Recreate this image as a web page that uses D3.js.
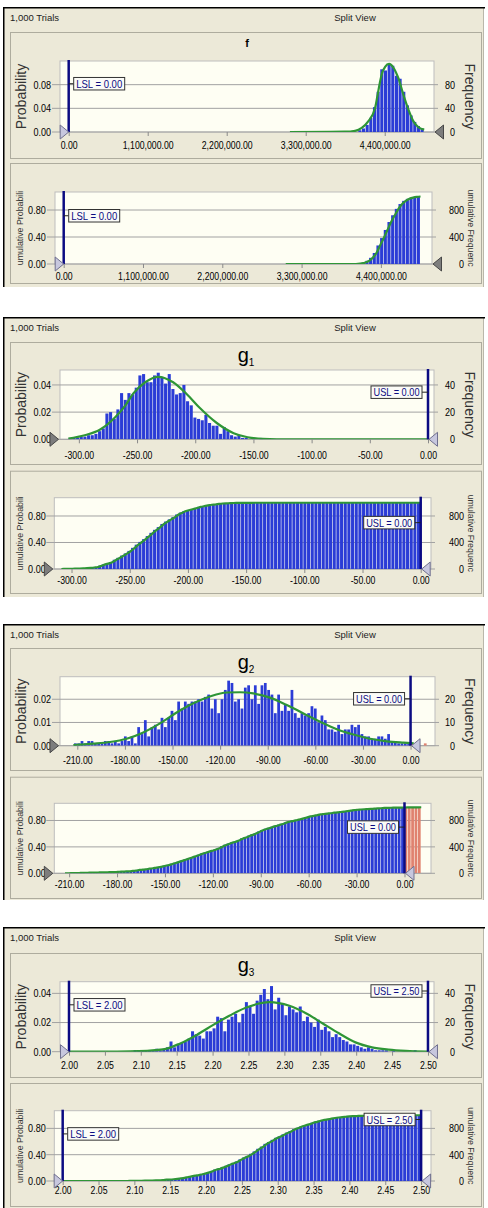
<!DOCTYPE html>
<html>
<head>
<meta charset="utf-8">
<script src="https://cdn.jsdelivr.net/npm/d3@7"></script>
<style>
  body { margin: 0; background: #fff; }
  svg text { font-family: "Liberation Sans", Arial, sans-serif; }
</style>
</head>
<body>
<svg id="chart" width="488" height="1208"></svg>
<script>
// ---- data (counts per bin, 1,000 trials) ----
const fBinStart = 4032000, fBinWidth = 51000;
const fCounts = [3, 6, 12, 24, 42, 68, 106, 104, 114, 112, 95, 90, 68, 45, 28, 17, 10, 6];
const fCurve = [[3080000, 0], [3846000, 0.0005], [3988000, 0.002], [4080000, 0.007], [4170000, 0.018],
  [4265000, 0.040], [4300000, 0.062], [4335000, 0.085], [4370000, 0.102], [4405000, 0.110], [4460000, 0.115],
  [4520000, 0.109], [4590000, 0.091], [4660000, 0.063], [4730000, 0.038], [4800000, 0.018], [4870000, 0.008], [4950000, 0.004]];
const fTicks = [0, 1100000, 2200000, 3300000, 4400000];

const g1BinStart = -308.7, g1BinWidth = 3.15, g1RangeEnd = 0;
const g1Counts = [1, 1, 1, 2, 2, 3, 3, 4, 6, 8, 19, 20, 15, 22, 34, 29, 34, 33, 38, 47,
  48, 42, 42, 47, 49, 46, 41, 48, 37, 33, 34, 40, 28, 25, 16, 15, 14, 18, 12, 10,
  10, 4, 9, 6, 3, 2, 3, 1, 1, 0, 1, 0, 1];
const g1Curve = [[-309, 0.0005], [-295, 0.003], [-282, 0.007], [-269, 0.016], [-260, 0.025], [-253, 0.034],
  [-243, 0.042], [-232, 0.046], [-219, 0.042], [-207, 0.033], [-196, 0.023], [-181.5, 0.012], [-167, 0.0045],
  [-155, 0.0015], [-142, 0.0003], [-130, 0], [0, 0]];
const g1Ticks = [-300, -250, -200, -150, -100, -50, 0];

const g2BinStart = -212.1, g2BinWidth = 2.1;
const g2Counts = [1, 1, 2, 1, 2, 2, 1, 1, 1, 2, 2, 1, 2, 1, 2, 4, 2, 4, 1, 8,
  5, 11, 4, 8, 9, 7, 12, 8, 12, 15, 11, 19, 16, 19, 18, 19, 19, 20, 19, 21,
  22, 16, 20, 14, 20, 24, 28, 27, 19, 20, 16, 25, 26, 20, 26, 18, 26, 27, 24, 22,
  14, 22, 15, 18, 15, 24, 14, 12, 14, 13, 14, 17, 16, 10, 13, 11, 7, 7, 6, 9,
  5, 7, 7, 9, 8, 9, 5, 4, 4, 3, 3, 4, 4, 3, 5, 2, 2, 1, 1, 1, 1, 1, 1, 1, 0, 1];
const g2Curve = [[-212.5, 0.0003], [-200, 0.0009], [-189.4, 0.0016], [-178.9, 0.003], [-168.4, 0.0057],
  [-157.9, 0.0096], [-147.4, 0.0143], [-136.9, 0.0183], [-126.4, 0.0212], [-115.8, 0.0229], [-107.4, 0.023],
  [-99.1, 0.0225], [-88.5, 0.0207], [-78, 0.0175], [-67.5, 0.0139], [-57, 0.0103], [-46.5, 0.0071],
  [-36, 0.0048], [-25.5, 0.003], [-15, 0.0019], [-4.5, 0.0013], [2, 0.001]];
const g2Ticks = [-210, -180, -150, -120, -90, -60, -30, 0];

const g3BinStart = 2.09, g3BinWidth = 0.005, g3RangeEnd = 2.5;
const g3Counts = [1, 1, 1, 1, 1, 1, 2, 1, 2, 3, 7, 3, 5, 6, 7, 9, 14, 12, 11, 9, 14, 14,
  16, 24, 23, 14, 22, 24, 26, 20, 26, 34, 31, 26, 35, 39, 43, 36, 45, 29, 37, 33,
  25, 31, 29, 27, 31, 21, 24, 20, 17, 22, 15, 17, 14, 10, 12, 10, 8, 7, 5, 5,
  4, 3, 2, 3, 2, 1, 1, 1, 1, 0, 1, 0, 0, 0, 0, 0, 1, 0];
const g3Curve = [[2.0, 0], [2.085, 0.0002], [2.131, 0.0016], [2.155, 0.0057], [2.178, 0.0115], [2.201, 0.0184],
  [2.224, 0.0248], [2.247, 0.0303], [2.279, 0.034], [2.307, 0.0315], [2.330, 0.0264], [2.353, 0.0195],
  [2.376, 0.0126], [2.399, 0.0064], [2.422, 0.003], [2.445, 0.0014], [2.469, 0.0005], [2.5, 0]];
const g3Ticks = [2.0, 2.05, 2.1, 2.15, 2.2, 2.25, 2.3, 2.35, 2.4, 2.45, 2.5];

const trials = 1000;
const freqTicks = { f: [0, 0.04, 0.08], g1: [0, 0.02, 0.04], g2: [0, 0.01, 0.02], g3: [0, 0.02, 0.04] };
const cumTicks = [0, 0.4, 0.8];

// ---- drawing ----
const svg = d3.select('#chart');
const fmt = d3.formatLocale({ decimal: '.', thousands: ',', grouping: [3], currency: ['', ''], minus: '-' }).format(',.2f');
const navy = '#0b0b82', blue = '#2b3cd6', green = '#2f9636', salmon = '#e0826f', grid = '#a2a2a2';
let clipN = 0;

// the screenshot's font is condensed; squeeze the glyphs to match
function narrow(sel, k) {
  sel.each(function () {
    const w = this.getComputedTextLength();
    this.setAttribute('textLength', (w * k).toFixed(1));
    this.setAttribute('lengthAdjust', 'spacingAndGlyphs');
  });
}

function makeBins(start, width, counts, end) {
  const n = end == null ? counts.length : Math.max(counts.length, Math.round((end - start) / width));
  return d3.range(n).map(i => ({ a: start + i * width, b: start + (i + 1) * width, n: counts[i] || 0 }));
}

function grabber(g, apex, yy, dir, light) {
  const b = apex - dir * 8.5;
  g.append('path').attr('d', `M${apex},${yy}L${b},${yy - 7}L${b},${yy + 7}Z`)
    .attr('fill', light ? '#c7c7de' : '#7d7d7d')
    .attr('stroke', light ? '#6f6f8e' : '#474747').attr('stroke-width', 1);
}

function drawPlot(c) {
  const g = svg.append('g');
  const cum = c.kind === 'cum';
  const x = d3.scaleLinear().domain(c.xDomain).range([c.x0, c.x1]);
  const y = d3.scaleLinear().domain([0, c.yMax]).range([c.y1, c.y0]);
  const yr = d3.scaleLinear().domain([0, c.yMax * trials]).range([c.y1, c.y0]);
  const id = 'clip' + (clipN++);
  g.append('clipPath').attr('id', id).append('rect')
    .attr('x', c.x0).attr('y', c.y0).attr('width', c.x1 - c.x0).attr('height', c.y1 - c.y0);

  g.append('rect').attr('x', c.x0).attr('y', c.y0).attr('width', c.x1 - c.x0).attr('height', c.y1 - c.y0)
    .attr('fill', '#fefef3').attr('stroke', '#bdbdbd');

  g.selectAll('line.grid').data(c.yTicks).join('line').attr('class', 'grid')
    .attr('x1', c.x0 - 8).attr('x2', c.x1 + 4)
    .attr('y1', d => y(d)).attr('y2', d => y(d))
    .attr('stroke', grid);

  const bins = c.bins;
  const cs = d3.cumsum(bins, d => d.n);
  const total = cs[cs.length - 1];
  const usl = c.limits.find(L => L.side === 'U');
  const bars = bins.map((b, i) => ({ a: b.a, b: b.b, v: cum ? cs[i] / total : b.n / trials, bad: usl && b.a >= usl.v - 1e-9 }));

  const inner = g.append('g').attr('clip-path', `url(#${id})`);
  inner.selectAll('rect').data(bars.filter(d => d.v > 0)).join('rect')
    .attr('x', d => x(d.a)).attr('width', d => Math.max(0.5, x(d.b) - x(d.a) - 0.6))
    .attr('y', d => y(d.v)).attr('height', d => y(0) - y(d.v))
    .attr('fill', d => d.bad ? salmon : blue);

  let pts;
  if (cum) {
    pts = [[c.curveFrom, 0], [bins[0].a, 0]].concat(bins.map((b, i) => [b.b, cs[i] / total]));
    if (c.curveTo > bins[bins.length - 1].b) pts.push([c.curveTo, 1]);
  } else {
    pts = c.curve;
  }
  inner.append('path').datum(pts)
    .attr('d', d3.line().x(d => x(d[0])).y(d => y(d[1])).curve(d3.curveMonotoneX))
    .attr('fill', 'none').attr('stroke', green).attr('stroke-width', 2.2);

  // axes
  g.append('g').attr('transform', `translate(0,${c.y1})`)
    .call(d3.axisBottom(x).tickValues(c.xTicks).tickFormat(fmt).tickSize(4).tickPadding(c.xPad))
    .call(a => {
      a.select('.domain').remove();
      a.selectAll('line').attr('stroke', '#8a8a8a');
      a.selectAll('text').attr('font-size', 10.5).attr('fill', '#000');
      narrow(a.selectAll('text'), 0.83);
    });
  g.append('g').attr('transform', `translate(${c.x0},0)`)
    .call(d3.axisLeft(y).tickValues(c.yTicks).tickFormat(fmt).tickSize(0).tickPadding(c.lPad))
    .call(a => {
      a.select('.domain').remove();
      a.selectAll('text').attr('font-size', 10.5).attr('fill', '#000');
      narrow(a.selectAll('text'), 0.86);
    });
  g.append('g').attr('transform', `translate(${c.rx},0)`)
    .call(d3.axisRight(yr).tickValues(c.yTicks.map(t => t * trials)).tickFormat(d3.format('d')).tickSize(0).tickPadding(0))
    .call(a => {
      a.select('.domain').remove();
      a.selectAll('text').attr('font-size', 10.5).attr('fill', '#000')
        .attr('text-anchor', 'end').attr('x', 0);
      narrow(a.selectAll('text'), 0.86);
    });

  // axis titles
  const cy = (c.y0 + c.y1) / 2;
  g.append('text').attr('transform', `translate(${c.lt[0]},${cy}) rotate(-90)`)
    .attr('text-anchor', 'middle').attr('font-size', c.ltSize).attr('fill', '#333').text(c.lt[1]);
  g.append('text').attr('transform', `translate(${c.rt[0]},${cy}) rotate(90)`)
    .attr('text-anchor', 'middle').attr('font-size', c.ltSize).attr('fill', '#333').text(c.rt[1]);

  // spec limits
  c.limits.forEach(L => {
    const xv = x(L.v);
    g.append('line').attr('x1', xv).attr('x2', xv).attr('y1', c.y0 - 1).attr('y2', c.y1)
      .attr('stroke', navy).attr('stroke-width', 2.5);
    const bw = 51, bh = 12.5;
    const by = c.y0 + L.pos * (c.y1 - c.y0);
    const bx = L.side === 'L' ? xv + 5 : xv - 6 - bw;
    g.append('line').attr('x1', xv).attr('x2', L.side === 'L' ? bx : bx + bw).attr('y1', by).attr('y2', by)
      .attr('stroke', '#222');
    g.append('rect').attr('x', bx).attr('y', by - bh / 2).attr('width', bw).attr('height', bh)
      .attr('fill', '#fbfbf7').attr('stroke', '#333');
    g.append('text').attr('x', bx + bw / 2).attr('y', by + 4.2)
      .attr('text-anchor', 'middle').attr('font-size', 11.5).attr('fill', navy)
      .attr('textLength', 46).attr('lengthAdjust', 'spacingAndGlyphs').text(L.label);
  });

  // certainty grabbers
  const lo = c.limits.find(L => L.side === 'L');
  grabber(g, lo ? x(lo.v) : c.x0 - 1.5, c.y1, 1, !!lo);
  grabber(g, usl ? x(usl.v) + 1 : c.x1 + 1, c.y1, -1, !!usl);
}

function drawWindow(top, bottom, boxes) {
  svg.append('rect').attr('x', 3).attr('y', top).attr('width', 481).attr('height', bottom - top).attr('fill', '#ece9d8');
  svg.append('line').attr('x1', 483.5).attr('x2', 483.5).attr('y1', top).attr('y2', bottom).attr('stroke', '#b9b7aa');
  svg.append('path').attr('d', `M3.75,${bottom}V${top + 0.75}H485`).attr('fill', 'none')
    .attr('stroke', '#000').attr('stroke-width', 1.5);
  boxes.forEach(b => {
    svg.append('rect').attr('x', 10.5).attr('y', b[0] + 0.5).attr('width', 471).attr('height', b[1] - b[0])
      .attr('fill', 'none').attr('stroke', '#aeac9e');
  });
  svg.append('text').attr('x', 10).attr('y', top + 14).attr('font-size', 9.5).attr('fill', '#222').text('1,000 Trials');
  svg.append('text').attr('x', 355).attr('y', top + 14).attr('font-size', 9.5).attr('fill', '#222')
    .attr('text-anchor', 'middle').text('Split View');
}

function gTitle(top, sub) {
  const t = svg.append('text').attr('x', 246).attr('y', top + 44.5).attr('text-anchor', 'middle').attr('font-size', 20);
  t.append('tspan').text('g');
  t.append('tspan').attr('font-size', 10).attr('dy', 4).text(sub);
}

const freqLabels = { lt: [26, 'Probability'], rt: [465, 'Frequency'], ltSize: 14, rx: 455 };
const cumLabels = { lt: [23.3, 'umulative Probabili'], rt: [468.4, 'umulative Frequenc'], ltSize: 8.8, rx: 464 };

// ---- f ----
drawWindow(7, 287, [[32, 158], [163, 283]]);
svg.append('text').attr('x', 247).attr('y', 47.3).attr('text-anchor', 'middle').attr('font-size', 11).attr('font-weight', 'bold').text('f');
const fBins = makeBins(fBinStart, fBinWidth, fCounts);
drawPlot(Object.assign({ kind: 'freq', x0: 60, x1: 434, y0: 61, y1: 132, xDomain: [-121000, 5086000], yMax: 0.12,
  yTicks: freqTicks.f, xTicks: fTicks, xPad: 5.8, lPad: 9, bins: fBins, curve: fCurve,
  limits: [{ side: 'L', v: 0, label: 'LSL = 0.00', pos: 0.32 }] }, freqLabels));
drawPlot(Object.assign({ kind: 'cum', x0: 55, x1: 432, y0: 192, y1: 264, xDomain: [-120700, 5109000], yMax: 1.067,
  yTicks: cumTicks, xTicks: fTicks, xPad: 5, lPad: 9.3, bins: fBins, curveFrom: 3080000, curveTo: 0,
  limits: [{ side: 'L', v: 0, label: 'LSL = 0.00', pos: 0.33 }] }, cumLabels));

// ---- g1 ----
drawWindow(317, 597, [[342, 464], [470.7, 593]]);
gTitle(317, '1');
const g1Bins = makeBins(g1BinStart, g1BinWidth, g1Counts, g1RangeEnd);
drawPlot(Object.assign({ kind: 'freq', x0: 60, x1: 434, y0: 370, y1: 439.3, xDomain: [-316.2, 5.15], yMax: 0.051,
  yTicks: freqTicks.g1, xTicks: g1Ticks, xPad: 8, lPad: 9, bins: makeBins(g1BinStart, g1BinWidth, g1Counts), curve: g1Curve,
  limits: [{ side: 'U', v: 0, label: 'USL = 0.00', pos: 0.32 }] }, freqLabels));
drawPlot(Object.assign({ kind: 'cum', x0: 54.3, x1: 431, y0: 497.7, y1: 569, xDomain: [-314.8, 8.85], yMax: 1.076,
  yTicks: cumTicks, xTicks: g1Ticks, xPad: 3.5, lPad: 8.6, bins: g1Bins, curveFrom: -305.6, curveTo: 0.5,
  limits: [{ side: 'U', v: 0, label: 'USL = 0.00', pos: 0.35 }] }, cumLabels));

// ---- g2 ----
drawWindow(624, 900, [[648, 770], [776.7, 898]]);
gTitle(624, '2');
const g2Bins = makeBins(g2BinStart, g2BinWidth, g2Counts);
drawPlot(Object.assign({ kind: 'freq', x0: 60, x1: 435, y0: 676.7, y1: 745.7, xDomain: [-220.9, 15.4], yMax: 0.0297,
  yTicks: freqTicks.g2, xTicks: g2Ticks, xPad: 6.8, lPad: 9, bins: g2Bins, curve: g2Curve,
  limits: [{ side: 'U', v: 0, label: 'USL = 0.00', pos: 0.32 }] }, freqLabels));
drawPlot(Object.assign({ kind: 'cum', x0: 54.3, x1: 431, y0: 803.3, y1: 873.3, xDomain: [-219.3, 16.6], yMax: 1.06,
  yTicks: cumTicks, xTicks: g2Ticks, xPad: 3.2, lPad: 8.6, bins: g2Bins, curveFrom: -212.6, curveTo: 10.1,
  limits: [{ side: 'U', v: 0, label: 'USL = 0.00', pos: 0.34 }] }, cumLabels));

// ---- g3 ----
drawWindow(927, 1212, [[953, 1077], [1083, 1206]]);
gTitle(927, '3');
const g3Bins = makeBins(g3BinStart, g3BinWidth, g3Counts, g3RangeEnd);
drawPlot(Object.assign({ kind: 'freq', x0: 60, x1: 434, y0: 981.7, y1: 1051.7, xDomain: [1.98747, 2.5084], yMax: 0.048,
  yTicks: freqTicks.g3, xTicks: g3Ticks, xPad: 5.8, lPad: 9, bins: makeBins(g3BinStart, g3BinWidth, g3Counts), curve: g3Curve,
  limits: [{ side: 'L', v: 2.0, label: 'LSL = 2.00', pos: 0.33 }, { side: 'U', v: 2.5, label: 'USL = 2.50', pos: 0.133 }] }, freqLabels));
drawPlot(Object.assign({ kind: 'cum', x0: 54.3, x1: 431, y0: 1110.7, y1: 1181, xDomain: [1.9883, 2.5138], yMax: 1.069,
  yTicks: cumTicks, xTicks: g3Ticks, xPad: 1.5, lPad: 8.6, bins: g3Bins, curveFrom: 2.0, curveTo: 2.5,
  limits: [{ side: 'L', v: 2.0, label: 'LSL = 2.00', pos: 0.33 }, { side: 'U', v: 2.5, label: 'USL = 2.50', pos: 0.125 }] }, cumLabels));
</script>
</body>
</html>
